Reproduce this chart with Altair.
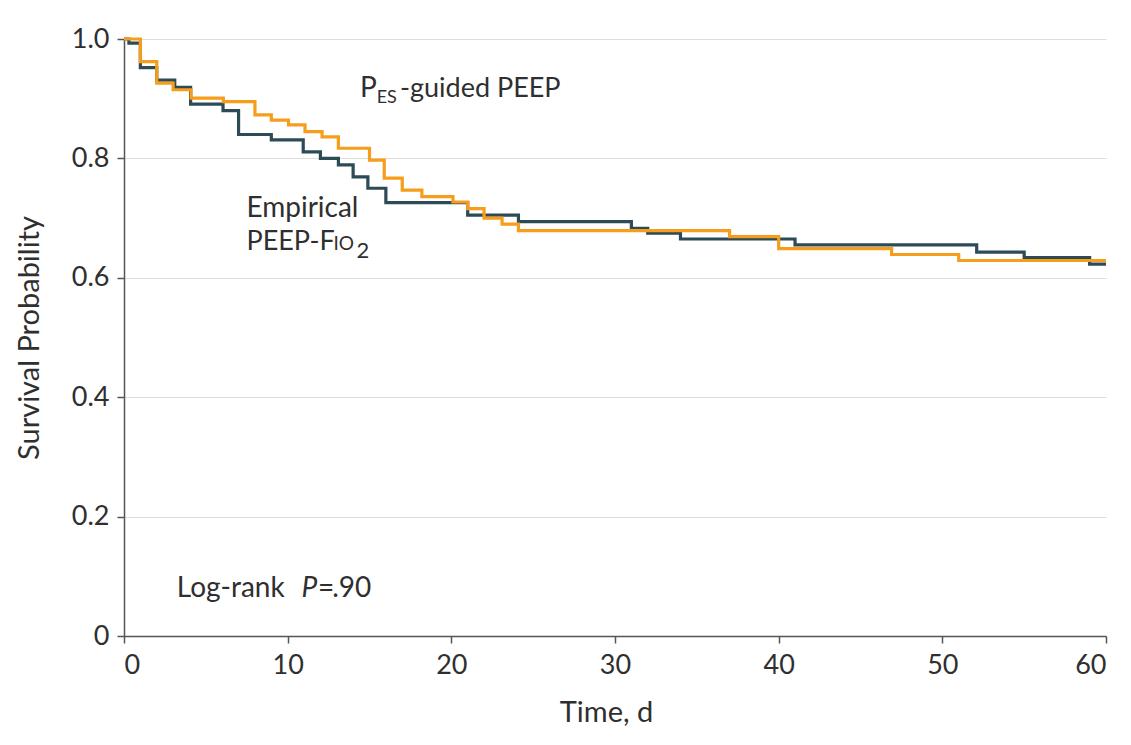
import altair as alt
import pandas as pd

# ---- data (Kaplan-Meier steps) ----
pes_days = [0, 1.0, 2.0, 3.0, 4.1, 6.07, 8.0, 9.0, 10.05, 11.06, 12.1, 13.1, 15.0, 15.9,
            17.0, 18.2, 20.1, 21.0, 22.0, 23.1, 24.1, 37.0, 40.0, 46.9, 51.0, 60]
pes_surv = [1.0, 0.962, 0.926, 0.915, 0.901, 0.895, 0.873, 0.864, 0.856, 0.845, 0.836, 0.817,
            0.797, 0.767, 0.747, 0.736, 0.727, 0.716, 0.700, 0.690, 0.679, 0.669, 0.649,
            0.639, 0.629, 0.629]

emp_days = [0, 0.3, 1.0, 2.0, 3.1, 4.07, 6.05, 7.0, 9.0, 10.95, 12.0, 13.1, 14.0, 14.9, 16.0,
            21.0, 24.1, 31.0, 32.0, 34.0, 41.0, 52.1, 55.0, 59.0, 60]
emp_surv = [1.0, 0.993, 0.952, 0.931, 0.919, 0.891, 0.880, 0.840, 0.831, 0.811, 0.800, 0.789,
            0.769, 0.750, 0.726, 0.705, 0.694, 0.683, 0.675, 0.665, 0.655, 0.643, 0.634,
            0.623, 0.623]

x_ticks = [0, 10, 20, 30, 40, 50, 60]
y_ticks = [0, 0.2, 0.4, 0.6, 0.8, 1.0]

# annotation text pieces (left edge in days, baseline in survival units)
ann_text = ["P", "ES", "-guided PEEP", "Empirical", "PEEP-F", "IO", "2",
            "Log-rank", "P", "=", ".90"]
ann_x = [14.42, 15.44, 16.86, 7.48, 7.48, 12.80, 14.20, 3.23, 10.85, 11.85, 12.72]
ann_y = [0.9034, 0.8923, 0.9034, 0.7023, 0.6466, 0.6466, 0.6327, 0.0658, 0.0658, 0.0658,
         0.0658]
ann_size = [28, 18, 27, 28, 27, 19, 22, 28, 28, 28, 28]
ann_style = ["normal"] * 8 + ["italic", "normal", "normal"]

ORANGE = "#F69D1C"
DARK = "#2C4B56"
FONT = "Lato"
TEXT = "#2f2f2f"

pes = pd.DataFrame({"day": pes_days, "surv": pes_surv})
emp = pd.DataFrame({"day": emp_days, "surv": emp_surv})
ann = pd.DataFrame({"text": ann_text, "day": ann_x, "surv": ann_y,
                    "size": ann_size, "style": ann_style})

xscale = alt.Scale(domain=[0, 60], nice=False)
yscale = alt.Scale(domain=[0, 1], nice=False)

xaxis = alt.Axis(values=x_ticks, title="Time, d", grid=False, labelFontSize=27,
                 titleFontSize=29, labelPadding=9, titlePadding=20, tickSize=7,
                 titleX=482)
yaxis = alt.Axis(values=y_ticks, title="Survival Probability", grid=True,
                 labelFontSize=27, titleFontSize=29, labelPadding=8, titlePadding=27,
                 tickSize=7,
                 labelExpr="datum.value == 0 ? '0' : format(datum.value, '.1f')")

emp_line = alt.Chart(emp).mark_line(interpolate="step-after", strokeWidth=3.2, color=DARK).encode(
    x=alt.X("day:Q", scale=xscale, axis=xaxis),
    y=alt.Y("surv:Q", scale=yscale, axis=yaxis),
)
pes_line = alt.Chart(pes).mark_line(interpolate="step-after", strokeWidth=3.2, color=ORANGE).encode(
    x=alt.X("day:Q", scale=xscale),
    y=alt.Y("surv:Q", scale=yscale),
)


def text_layer(style):
    return alt.Chart(ann).transform_filter(
        alt.datum.style == style
    ).mark_text(align="left", baseline="alphabetic", color=TEXT,
                font=FONT, fontStyle=style).encode(
        x=alt.X("day:Q", scale=xscale),
        y=alt.Y("surv:Q", scale=yscale),
        text="text:N",
        size=alt.Size("size:Q", scale=None, legend=None),
    )


chart = alt.layer(emp_line, pes_line, text_layer("normal"), text_layer("italic")).properties(
    width=982, height=597,
    autosize=alt.AutoSizeParams(type="none"),
    padding={"left": 116, "top": 31, "right": 10, "bottom": 90},
    background="white",
).configure_view(stroke=None).configure_axis(
    labelFont=FONT, titleFont=FONT, labelColor=TEXT, titleColor=TEXT,
    titleFontWeight="normal", domainColor="#555555", domainWidth=1.5,
    tickColor="#555555", tickWidth=1.5, gridColor="#dedede", gridWidth=1.2,
)

chart.save("out.html", embed_options={"renderer": "svg", "actions": False})
